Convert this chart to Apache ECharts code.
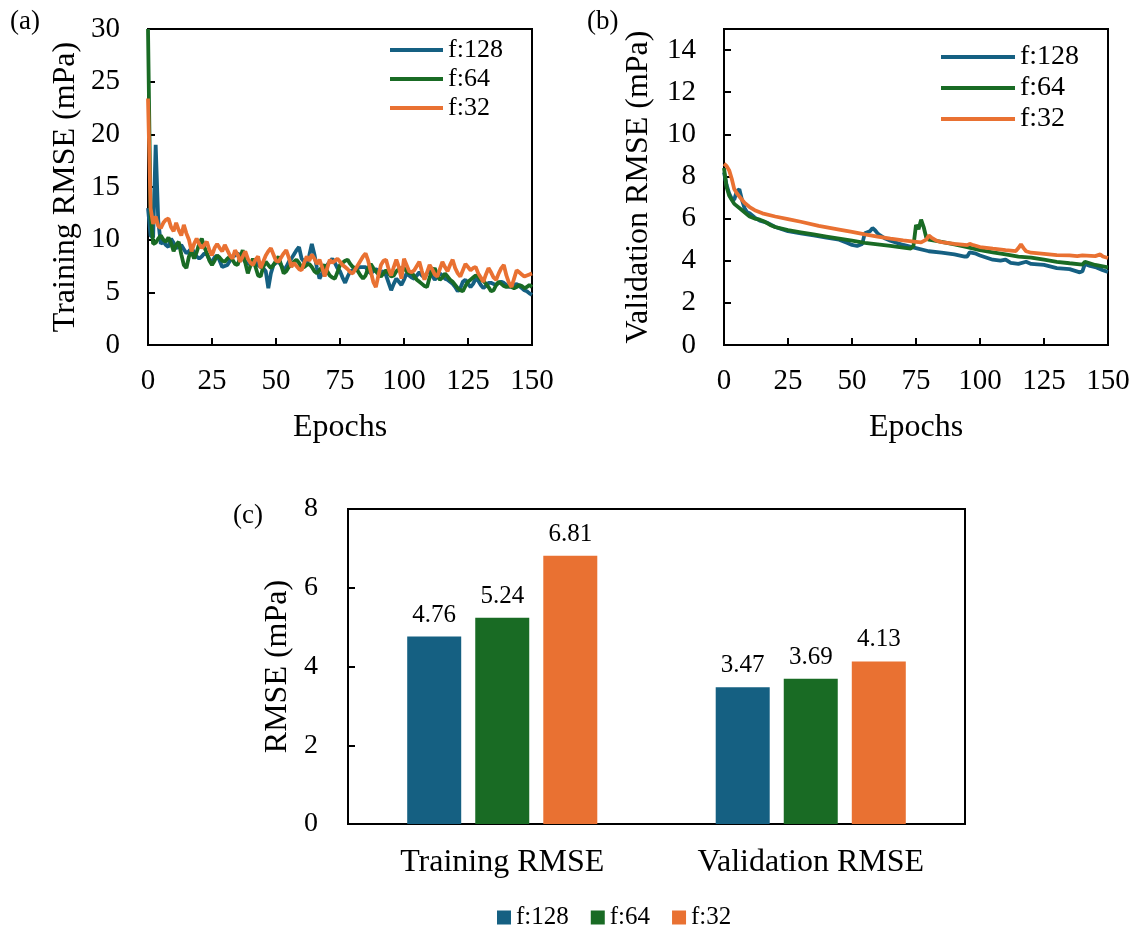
<!DOCTYPE html>
<html>
<head>
<meta charset="utf-8">
<script src="https://cdn.jsdelivr.net/npm/echarts@6/dist/echarts.min.js"></script>
<style>
html,body{margin:0;padding:0;background:#fff;}
#chart{width:1140px;height:934px;}
</style>
</head>
<body>
<div id="chart"></div>
<script>
// ---------- DATA ----------
const seriesNames = ['f:128', 'f:64', 'f:32'];
const colors = ['#156082', '#196B24', '#E97132'];

// (a) Training RMSE per epoch (epochs 0..150)
const trainF128 = [13.0,10.4,10.2,19.0,11.8,9.6,9.8,9.5,9.3,10.1,9.7,
 9.2,9.3,9.5,9.1,8.7,8.9,9.2,8.8,8.4,8.2,
 8.4,8.7,8.6,8.1,7.9,8.3,8.5,8.0,7.4,7.5,
 7.6,8.0,8.4,8.5,8.7,8.5,8.2,7.9,7.7,7.8,
 8.0,7.9,7.6,7.4,7.3,7.0,5.4,6.8,7.6,7.8,
 7.9,7.6,7.1,7.4,7.9,8.2,8.6,9.0,9.3,8.2,
 7.9,7.6,8.5,9.6,8.6,7.3,6.3,6.8,7.3,7.6,
 7.9,8.2,7.8,7.3,7.0,6.4,5.9,6.5,7.0,7.1,
 7.2,7.3,7.4,7.4,7.4,7.0,6.8,7.0,7.2,7.1,
 6.9,7.0,6.6,5.9,5.2,5.8,6.3,6.0,5.7,6.2,
 6.8,6.6,6.4,6.3,6.6,6.9,6.6,6.4,6.8,7.1,
 6.6,6.2,6.5,6.8,6.6,6.3,6.2,6.0,5.8,5.5,
 5.1,5.4,6.0,6.2,5.8,5.5,5.8,6.3,6.1,5.7,
 5.4,5.6,5.9,5.9,5.8,5.7,5.9,6.0,5.9,5.7,
 5.5,5.6,5.7,5.8,5.6,5.4,5.2,5.1,4.9,4.75];
const trainF64 = [30.0,12.5,9.6,9.7,10.1,10.4,10.0,9.8,10.2,9.7,8.9,
 9.5,9.8,8.6,7.6,7.3,8.4,8.9,8.2,8.8,9.6,
 10.1,9.3,8.7,8.0,7.6,8.0,8.5,8.3,8.0,7.9,
 8.2,8.4,8.1,7.7,7.6,8.3,9.0,7.8,6.8,7.5,
 8.2,7.4,6.6,6.5,7.4,7.9,7.6,7.3,7.6,8.0,
 8.4,7.6,6.8,7.0,7.4,7.6,7.9,8.1,7.8,7.3,
 7.4,7.6,7.7,7.4,7.0,6.8,7.1,7.4,7.6,7.0,
 6.6,6.4,6.3,6.9,7.6,7.8,8.0,8.1,7.7,7.4,
 7.3,7.0,6.6,6.3,6.6,7.3,7.7,7.3,7.0,6.7,
 6.5,6.8,7.1,6.8,6.5,6.6,7.0,7.2,7.3,7.3,
 7.0,6.8,6.9,6.5,6.2,6.0,5.8,5.6,5.5,6.4,
 7.0,7.3,6.6,6.2,6.4,6.8,6.5,6.2,6.0,5.7,
 5.4,5.2,5.1,5.6,6.0,6.2,6.4,6.6,6.5,6.2,
 6.1,5.8,5.5,5.1,5.2,5.7,6.0,5.8,5.6,5.5,
 5.6,5.5,5.4,5.5,5.7,5.6,5.4,5.5,5.7,5.5];
const trainF32 = [23.4,13.0,11.5,12.2,11.3,11.1,11.6,11.9,12.0,11.2,10.8,
 11.6,10.9,10.4,11.4,10.6,10.0,8.9,9.6,10.1,9.6,
 9.2,9.5,9.8,9.0,8.5,9.2,9.6,9.2,8.9,9.5,
 9.0,8.5,8.2,9.0,8.6,7.9,8.4,8.9,8.2,7.8,
 7.6,8.1,8.4,7.3,7.9,8.5,8.9,9.2,8.6,8.0,
 7.9,8.3,8.7,9.0,8.3,7.4,7.8,7.5,7.2,7.1,
 7.8,8.4,8.0,8.6,8.2,7.7,8.1,7.4,6.5,7.3,
 8.1,7.8,8.0,8.2,7.9,7.6,7.4,7.2,6.9,6.8,
 7.2,7.6,8.0,8.4,8.7,8.0,7.0,6.0,5.5,6.6,
 7.6,8.0,8.1,7.2,6.6,7.4,8.1,7.4,6.3,8.2,
 7.6,7.0,6.9,7.1,7.5,7.9,7.0,6.2,6.9,7.6,
 7.2,6.7,6.5,7.2,7.9,7.4,7.0,7.6,8.1,7.3,
 6.8,6.5,7.1,7.7,7.4,7.1,7.3,7.4,6.8,6.4,
 6.0,6.7,7.3,6.9,6.4,6.2,6.8,7.3,7.6,6.6,
 5.9,5.5,6.3,7.1,6.9,6.7,6.5,6.6,6.7,6.8];

// (b) Validation RMSE: epochs and values
const valEpF128 = [0,1,2,3,4,5,6,7,8,9,10,12,14,17,20,25,30,35,40,45,48,50,52,54,55,57,58,59,60,61,63,65,70,75,80,85,90,94,95,96,98,100,105,108,110,112,115,118,120,125,130,135,139,140,141,143,145,148,150];
const valF128   = [8.2,7.6,7.2,6.95,6.9,7.3,7.4,6.9,6.5,6.3,6.25,6.05,5.9,5.8,5.6,5.4,5.3,5.2,5.1,5.0,4.85,4.75,4.7,4.8,5.3,5.4,5.55,5.45,5.3,5.2,5.05,4.95,4.75,4.6,4.45,4.38,4.3,4.2,4.2,4.4,4.35,4.25,4.05,4.0,4.05,3.9,3.85,3.95,3.85,3.8,3.65,3.6,3.45,3.5,3.85,3.75,3.7,3.55,3.47];
const valEpF64 = [0,1,2,3,4,6,8,10,12,14,16,18,20,25,30,35,40,45,50,55,60,65,70,73,74,75,76,77,78,79,80,85,90,95,100,105,110,115,120,125,130,135,140,141,145,150];
const valF64   = [8.4,7.5,7.1,6.9,6.7,6.5,6.3,6.1,6.0,5.95,5.85,5.7,5.6,5.45,5.35,5.25,5.15,5.05,4.95,4.85,4.78,4.7,4.62,4.58,4.7,5.7,5.5,5.95,5.6,5.1,5.0,4.9,4.78,4.65,4.5,4.4,4.3,4.2,4.15,4.05,3.95,3.88,3.82,3.95,3.8,3.69];
const valEpF32 = [0,1,2,3,4,5,6,8,10,12,15,20,25,30,37,45,50,55,60,65,70,75,77,79,80,81,83,85,90,95,96,97,100,105,110,114,115,116,117,118,120,125,130,135,138,140,145,147,148,150];
const valF32   = [8.6,8.5,8.3,7.9,7.4,7.2,7.05,6.75,6.55,6.4,6.25,6.1,5.98,5.85,5.65,5.48,5.37,5.25,5.15,5.05,4.97,4.9,4.87,5.0,5.2,5.1,4.95,4.88,4.8,4.74,4.8,4.76,4.65,4.57,4.5,4.46,4.6,4.78,4.6,4.45,4.38,4.33,4.27,4.25,4.22,4.25,4.22,4.3,4.2,4.13];

// (c) Final RMSE bars
const barCategories = ['Training RMSE', 'Validation RMSE'];
const barF128 = [4.76, 3.47];
const barF64  = [5.24, 3.69];
const barF32  = [6.81, 4.13];

// Tick settings
const epochTicks = {min: 0, max: 150, interval: 25};
const trainTicks = {min: 0, max: 30, interval: 5};
const valTicks   = {min: 0, max: 15, interval: 2};
const barTicks   = {min: 0, max: 8, interval: 2};

// ---------- BUILD ----------
const FONT = '"Liberation Serif","Times New Roman",serif';
function pairs(xs, ys) { return ys.map((v, i) => [xs[i], v]); }
const idxA = trainF128.map((_, i) => i);

const axisBase = {
  axisLine: {show: true, onZero: false, lineStyle: {color: '#000', width: 2}},
  axisTick: {show: true, inside: true, length: 7, lineStyle: {color: '#000', width: 2}},
  splitLine: {show: false},
  nameTextStyle: {color: '#000', fontFamily: FONT, fontSize: 32},
};
function axisLabel(size, margin) {
  return {color: '#000', fontFamily: FONT, fontSize: size, margin: margin};
}

const trainSets = [trainF128, trainF64, trainF32];
const valSets = [[valEpF128, valF128], [valEpF64, valF64], [valEpF32, valF32]];
const barSets = [barF128, barF64, barF32];

const series = [];
seriesNames.forEach((n, k) => {
  series.push({
    name: n, type: 'line', xAxisIndex: 0, yAxisIndex: 0,
    data: pairs(idxA, trainSets[k]), symbol: 'none', showSymbol: false, smooth: false,
    lineStyle: {color: colors[k], width: 3.8}, itemStyle: {color: colors[k]},
    clip: true, animation: false
  });
});
seriesNames.forEach((n, k) => {
  series.push({
    name: n, type: 'line', xAxisIndex: 1, yAxisIndex: 1,
    data: pairs(valSets[k][0], valSets[k][1]), symbol: 'none', showSymbol: false, smooth: false,
    lineStyle: {color: colors[k], width: 3.8}, itemStyle: {color: colors[k]},
    clip: true, animation: false
  });
});
seriesNames.forEach((n, k) => {
  series.push({
    name: n, type: 'bar', xAxisIndex: 2, yAxisIndex: 2,
    data: barSets[k], barWidth: 54, barGap: '26%',
    itemStyle: {color: colors[k]},
    label: {show: true, position: 'top', distance: 9, color: '#000', fontFamily: FONT, fontSize: 25},
    animation: false
  });
});

const legendText = (size) => ({color: '#000', fontFamily: FONT, fontSize: size});

const option = {
  backgroundColor: '#fff',
  animation: false,
  grid: [
    {left: 148, top: 29, width: 384, height: 316, show: true, borderColor: '#000', borderWidth: 2, backgroundColor: 'transparent'},
    {left: 724, top: 29, width: 384, height: 316, show: true, borderColor: '#000', borderWidth: 2, backgroundColor: 'transparent'},
    {left: 348, top: 509, width: 617, height: 315, show: true, borderColor: '#000', borderWidth: 2, backgroundColor: 'transparent'}
  ],
  xAxis: [
    Object.assign({}, axisBase, {gridIndex: 0, type: 'value', min: epochTicks.min, max: epochTicks.max, interval: epochTicks.interval,
      name: 'Epochs', nameLocation: 'middle', nameGap: 67, axisLabel: axisLabel(29, 22)}),
    Object.assign({}, axisBase, {gridIndex: 1, type: 'value', min: epochTicks.min, max: epochTicks.max, interval: epochTicks.interval,
      name: 'Epochs', nameLocation: 'middle', nameGap: 67, axisLabel: axisLabel(29, 22)}),
    Object.assign({}, axisBase, {gridIndex: 2, type: 'category', data: barCategories,
      axisTick: {show: false}, axisLabel: axisLabel(32, 23)})
  ],
  yAxis: [
    Object.assign({}, axisBase, {gridIndex: 0, type: 'value', min: trainTicks.min, max: trainTicks.max, interval: trainTicks.interval,
      name: 'Training RMSE (mPa)', nameLocation: 'middle', nameGap: 66, axisLabel: axisLabel(29, 28)}),
    Object.assign({}, axisBase, {gridIndex: 1, type: 'value', min: valTicks.min, max: valTicks.max, interval: valTicks.interval,
      name: 'Validation RMSE (mPa)', nameLocation: 'middle', nameGap: 69, axisLabel: Object.assign(axisLabel(29, 28), {showMaxLabel: false})}),
    Object.assign({}, axisBase, {gridIndex: 2, type: 'value', min: barTicks.min, max: barTicks.max, interval: barTicks.interval,
      name: 'RMSE (mPa)', nameLocation: 'middle', nameGap: 49, axisLabel: axisLabel(28, 30)})
  ],
  legend: [
    {left: 390, top: 37, orient: 'vertical', padding: 0, icon: 'rect', itemWidth: 53, itemHeight: 4, itemGap: 3,
      textStyle: legendText(26), data: seriesNames, selectedMode: false},
    {left: 941, top: 43, orient: 'vertical', padding: 0, icon: 'rect', itemWidth: 74, itemHeight: 4, itemGap: 3,
      textStyle: legendText(28), data: seriesNames, selectedMode: false},
    {left: 497, top: 905, orient: 'horizontal', padding: 0, icon: 'rect', itemWidth: 14, itemHeight: 14, itemGap: 22,
      textStyle: legendText(25), data: seriesNames, selectedMode: false}
  ],
  graphic: [
    {type: 'text', left: 10, top: 8, style: {text: '(a)', fill: '#000', font: '27px ' + FONT}},
    {type: 'text', left: 587, top: 8, style: {text: '(b)', fill: '#000', font: '27px ' + FONT}},
    {type: 'text', left: 233, top: 502, style: {text: '(c)', fill: '#000', font: '27px ' + FONT}}
  ],
  series: series
};

const chart = echarts.init(document.getElementById('chart'), null, {renderer: 'canvas'});
chart.setOption(option);
</script>
</body>
</html>
